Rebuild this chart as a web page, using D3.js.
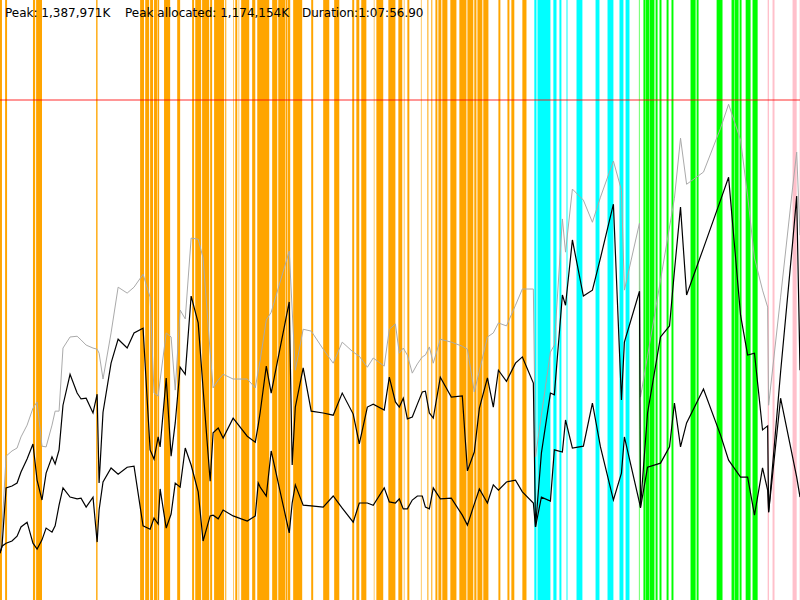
<!DOCTYPE html>
<meta charset="utf-8">
<style>
body{
	margin:0;
	background:#fff;
}
text{
	font-family:"DejaVu Sans",sans-serif;
	font-size:12px;
	fill:#000;
}
.band{
	shape-rendering:auto;
}
.peak{
	stroke:#ff0000;
	stroke-opacity:0.55;
	stroke-width:1.3px;
}
.line{
	fill:none;
	stroke-linejoin:miter;
}
</style>
<body>
<script src="https://cdn.jsdelivr.net/npm/d3@7"></script>
<script>

// header values
var peakK = 1387971;
var peakAllocK = 1174154;
var durationLabel = "1:07:56.90";
var durationSec = 4076.9;

// sample times (s)
var timeSec = [0,10,31,61,87,107,138,168,189,214,
235,265,281,301,321,357,393,413,439,474,
495,505,525,566,602,648,683,729,765,785,
806,816,847,872,893,918,944,974,1010,1035,
1071,1086,1112,1137,1188,1260,1301,1316,1326,1357,
1382,1474,1489,1505,1545,1586,1647,1698,1744,1800,
1831,1872,1902,1958,1984,2015,2035,2055,2076,2101,
2127,2152,2168,2188,2208,2244,2300,2356,2382,2417,
2443,2484,2514,2540,2581,2627,2662,2718,2729,2759,
2805,2825,2866,2882,2917,2973,3019,3060,3126,3167,
3182,3259,3264,3300,3366,3412,3437,3468,3499,3585,
3672,3713,3774,3810,3845,3886,3912,3917,3978,4039,
4060,4077];

// memory (MB)
var heapSize = [130,190,390,404,412,442,474,520,537,417,
415,474,512,512,683,713,715,705,691,683,
680,669,599,724,848,832,848,883,821,561,
553,596,724,713,569,786,762,981,978,927,
672,575,596,612,599,599,575,621,650,759,
780,946,786,623,734,729,680,642,699,672,
661,631,656,634,734,748,669,683,664,615,
640,659,664,686,642,707,699,688,680,564,
621,713,724,751,743,799,843,843,388,501,
672,691,1033,943,1114,1084,1024,1092,1190,1111,
840,1022,550,661,867,1011,1089,1252,1127,1160,
1279,1344,1247,1095,927,840,794,528,821,1117,
1214,989];

var allocated = [127,144,304,309,317,347,382,423,325,271,
344,388,369,407,528,612,561,545,547,507,
558,317,509,642,707,683,724,737,407,382,
442,415,602,390,480,631,612,824,751,572,
322,453,466,439,493,444,428,474,509,634,
561,808,366,523,629,512,507,501,561,504,
423,523,531,515,604,537,523,547,491,496,
531,564,566,507,493,604,550,553,350,401,
520,602,523,623,593,642,659,588,198,398,
561,556,827,799,976,824,840,927,1073,542,
699,837,252,507,713,743,892,1065,827,954,
1084,1146,772,664,669,461,472,238,618,967,
1095,623];

var live = [127,146,154,160,173,198,211,154,138,163,
195,184,201,257,304,279,274,276,252,279,
157,244,320,358,341,360,363,201,192,222,
206,301,195,233,317,306,412,366,293,160,
228,230,220,244,228,214,228,317,306,282,
404,182,263,312,257,255,252,282,249,211,
263,263,257,304,266,263,274,247,247,271,
282,282,252,247,304,274,276,230,203,260,
301,263,312,298,320,325,293,263,198,279,
268,407,401,488,412,417,534,415,271,344,
442,263,250,360,371,415,534,415,480,572,
447,379,333,333,230,358,298,238,547,388,
333,279];

// pause bands [start, end] (s)
var orangeBands = [[0,10],[26,36],[168,179],[184,214],[490,497],[714,734],[740,760],[765,780],[785,801],[803,811],
[836,867],[903,918],[979,989],[995,1025],[1030,1066],[1071,1081],[1091,1142],[1148,1153],[1188,1191],[1199,1209],
[1216,1219],[1229,1270],[1285,1301],[1311,1372],[1387,1413],[1418,1454],[1456,1464],[1466,1479],[1494,1540],[1586,1596],
[1647,1678],[1703,1729],[1795,1805],[1816,1831],[1841,1867],[1905,1908],[1918,1953],[1979,2015],[2030,2050],[2058,2061],
[2076,2086],[2145,2148],[2178,2183],[2198,2203],[2219,2229],[2234,2249],[2254,2280],[2295,2326],[2341,2377],[2382,2412],
[2417,2428],[2433,2458],[2463,2489],[2540,2550],[2586,2596],[2606,2621],[2662,2683]];
var cyanBands = [[2723,2734],[2739,2805],[2820,2836],[2851,2861],[2887,2892],[2938,2968],[3035,3055],[3096,3126],[3157,3177],[3188,3208]];
var greenBands = [[3256,3259],[3279,3290],[3292,3310],[3312,3335],[3341,3351],[3361,3371],[3397,3407],[3422,3432],[3519,3545],[3550,3560],
[3652,3682],[3728,3741],[3743,3764],[3769,3779],[3800,3825],[3835,3861]];
var pinkBands = [[3912,3919],[3937,3947],[4039,4060],[4075,4080]];

var width = 800, height = 600;
var peakMB = peakK/1024;

var x = d3.scaleLinear().domain([0, durationSec]).range([0, width]);
var y = d3.scaleLinear().domain([0, peakMB*1.2]).range([height, 0]);

var svg = d3.select("body").append("svg").attr("width", width).attr("height", height);

var bandGroups = [
	{color:"#ffa500", bands:orangeBands},
	{color:"#00ffff", bands:cyanBands},
	{color:"#00ff00", bands:greenBands},
	{color:"#ffc0cb", bands:pinkBands}
];

bandGroups.forEach(function(g){
	svg.append("g").selectAll("rect").data(g.bands).enter().append("rect")
		.attr("class","band")
		.attr("x", d=>x(d[0]))
		.attr("width", d=>x(d[1])-x(d[0]))
		.attr("y", 0)
		.attr("height", height)
		.attr("fill", g.color);
});

svg.append("line").attr("class","peak")
	.attr("x1",0).attr("x2",width)
	.attr("y1",y(peakMB)).attr("y2",y(peakMB));

var series = [
	{values:heapSize, color:"#aaaaaa", w:1},
	{values:allocated, color:"#000", w:1.2},
	{values:live, color:"#000", w:1.2}
];

series.forEach(function(s){
	var line = d3.line()
		.x((d,i)=>x(timeSec[i]))
		.y(d=>y(d));
	svg.append("path").attr("class","line")
		.attr("stroke", s.color)
		.attr("stroke-width", s.w)
		.attr("d", line(s.values));
});

var fmt = d3.format(",");
var header = [
	{x:5, text:"Peak: " + fmt(peakK) + "K"},
	{x:125, text:"Peak allocated: " + fmt(peakAllocK) + "K"},
	{x:302, text:"Duration:" + durationLabel}
];
svg.selectAll(".header").data(header).enter().append("text")
	.attr("class","header")
	.attr("x", d=>d.x)
	.attr("y", 17)
	.text(d=>d.text);

</script>
</body>
</html>
